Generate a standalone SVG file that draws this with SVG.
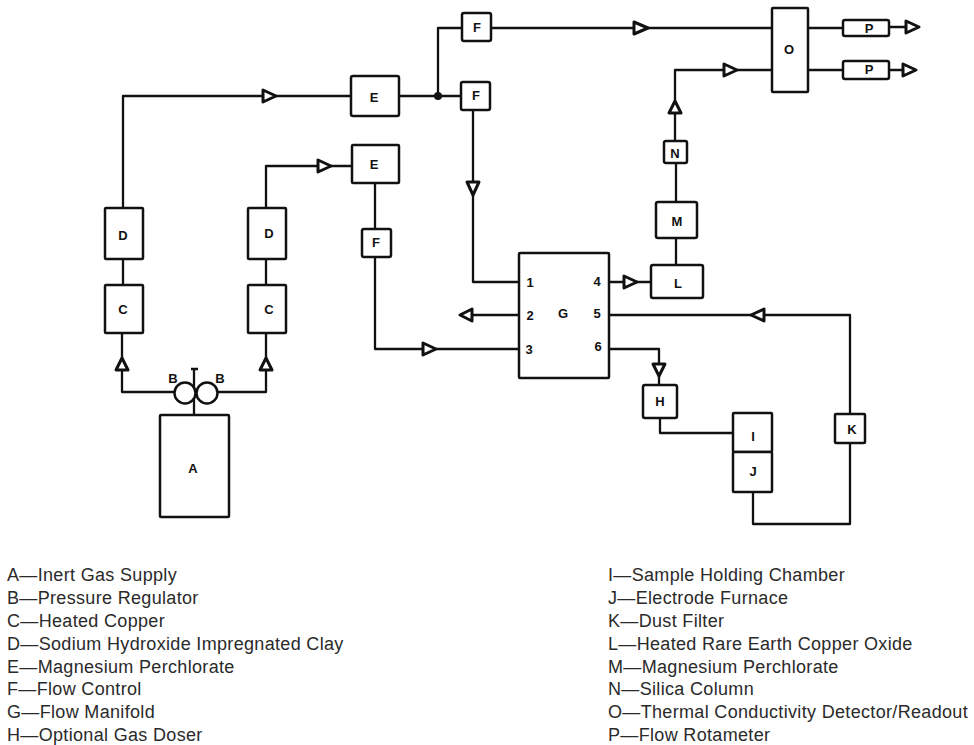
<svg xmlns="http://www.w3.org/2000/svg" width="974" height="745" viewBox="0 0 974 745">
<style>
.b{fill:#fff;stroke:#111;stroke-width:2.5;stroke-linejoin:round}
.l{fill:none;stroke:#111;stroke-width:2.3;stroke-linejoin:round}
.a{fill:#fff;stroke:#111;stroke-width:3;stroke-linejoin:round}
.t{font-family:"Liberation Sans",Arial,sans-serif;font-weight:700;font-size:13px;text-anchor:middle;fill:#111}
.k{font-family:"Liberation Sans",Arial,sans-serif;font-size:18px;letter-spacing:.33px;fill:#2a2a2a}
</style>
<rect width="974" height="745" fill="#fff"/>
<g id="connectors">
<path class="l" d="M123 208V96H351"/>
<path class="l" d="M266 208V166H352"/>
<path class="l" d="M123 285V259M266 285V259M375 183V229M122 333V392H175M266 333V392H217"/>
<path class="l" d="M194 369V415M191 369H198"/>
<path class="l" d="M399 96H461M438 96V28H462M491 28H772"/>
<path class="l" d="M473 110V282H519M375 257V349H519M519 315H473"/>
<path class="l" d="M609 282H651M676 265V238M676 202V163M675 141V70H772"/>
<path class="l" d="M808 28H843M889 27H905M808 70H843M889 70H902"/>
<path class="l" d="M609 315H850V414M850 443V524H753V492"/>
<path class="l" d="M609 349H659V385M660 418V433H733"/>
<circle cx="438" cy="96" r="4" fill="#111"/>
<polygon class="a" points="263,90 263,102 276,96"/>
<polygon class="a" points="318,160 318,172 331,166"/>
<polygon class="a" points="634,22 634,34 648,28"/>
<polygon class="a" points="724,64 724,76 737,70"/>
<polygon class="a" points="906,21 906,33 919,27"/>
<polygon class="a" points="903,64 903,76 916,70"/>
<polygon class="a" points="116,370 128,370 122,358"/>
<polygon class="a" points="260,370 272,370 266,358"/>
<polygon class="a" points="467,182 479,182 473,195"/>
<polygon class="a" points="669,113 681,113 675,101"/>
<polygon class="a" points="472,309 472,321 460,315"/>
<polygon class="a" points="423,343 423,355 436,349"/>
<polygon class="a" points="624,276 624,288 637,282"/>
<polygon class="a" points="764,309 764,321 751,315"/>
<polygon class="a" points="653,364 665,364 659,376"/>
</g>
<g id="A"><rect class="b" x="160" y="415" width="69" height="102" rx="1"/><text class="t" x="193" y="473">A</text></g>
<g id="B1"><circle class="b" cx="185" cy="393" r="10.5"/><text class="t" x="173" y="383">B</text></g>
<g id="B2"><circle class="b" cx="207" cy="393" r="10.5"/><text class="t" x="220" y="383">B</text></g>
<g id="C1"><rect class="b" x="105" y="285" width="38" height="48" rx="1"/><text class="t" x="123" y="314">C</text></g>
<g id="D1"><rect class="b" x="105" y="208" width="38" height="51" rx="1"/><text class="t" x="123" y="240">D</text></g>
<g id="C2"><rect class="b" x="248" y="285" width="38" height="48" rx="1"/><text class="t" x="269" y="314">C</text></g>
<g id="D2"><rect class="b" x="248" y="208" width="38" height="51" rx="1"/><text class="t" x="269" y="238">D</text></g>
<g id="E1"><rect class="b" x="351" y="76" width="48" height="40" rx="2"/><text class="t" x="374" y="102">E</text></g>
<g id="E2"><rect class="b" x="352" y="145" width="47" height="38" rx="1"/><text class="t" x="374" y="169">E</text></g>
<g id="F1"><rect class="b" x="462" y="13" width="29" height="28" rx="2"/><text class="t" x="477" y="32">F</text></g>
<g id="F2"><rect class="b" x="461" y="82" width="29" height="28" rx="2"/><text class="t" x="476" y="100">F</text></g>
<g id="F3"><rect class="b" x="362" y="229" width="29" height="28" rx="2"/><text class="t" x="376" y="247">F</text></g>
<g id="G"><rect class="b" x="519" y="253" width="90" height="125" rx="1"/>
<text class="t" x="530" y="287">1</text><text class="t" x="530" y="320">2</text><text class="t" x="529" y="354">3</text><text class="t" x="597" y="286">4</text><text class="t" x="597" y="318">5</text><text class="t" x="598" y="351">6</text><text class="t" font-size="14" x="563" y="318">G</text></g>
<g id="H"><rect class="b" x="643" y="385" width="34" height="33" rx="2"/><text class="t" x="660" y="406">H</text></g>
<g id="I"><rect class="b" x="733" y="413" width="39" height="39" rx="1"/><text class="t" x="753" y="441">I</text></g>
<g id="J"><rect class="b" x="733" y="452" width="39" height="40" rx="1"/><text class="t" x="753" y="476">J</text></g>
<g id="K"><rect class="b" x="835" y="414" width="30" height="29" rx="1"/><text class="t" x="852" y="434">K</text></g>
<g id="L"><rect class="b" x="651" y="265" width="52" height="33" rx="2"/><text class="t" x="678" y="288">L</text></g>
<g id="M"><rect class="b" x="656" y="202" width="41" height="36" rx="2"/><text class="t" x="677" y="226">M</text></g>
<g id="N"><rect class="b" x="664" y="141" width="23" height="22" rx="2"/><text class="t" x="675" y="158">N</text></g>
<g id="O"><rect class="b" x="772" y="8" width="36" height="84" rx="1"/><text class="t" x="789" y="54">O</text></g>
<g id="P1"><rect class="b" x="843" y="20" width="46" height="16" rx="2"/><text class="t" x="869" y="33">P</text></g>
<g id="P2"><rect class="b" x="843" y="61" width="46" height="18" rx="2"/><text class="t" x="869" y="74">P</text></g>
<g id="legend">
<text class="k" x="7" y="581">A—Inert Gas Supply</text>
<text class="k" x="7" y="604">B—Pressure Regulator</text>
<text class="k" x="7" y="627">C—Heated Copper</text>
<text class="k" x="7" y="650">D—Sodium Hydroxide Impregnated Clay</text>
<text class="k" x="7" y="673">E—Magnesium Perchlorate</text>
<text class="k" x="7" y="695">F—Flow Control</text>
<text class="k" x="7" y="718">G—Flow Manifold</text>
<text class="k" x="7" y="741">H—Optional Gas Doser</text>
<text class="k" x="608" y="581">I—Sample Holding Chamber</text>
<text class="k" x="608" y="604">J—Electrode Furnace</text>
<text class="k" x="608" y="627">K—Dust Filter</text>
<text class="k" x="608" y="650">L—Heated Rare Earth Copper Oxide</text>
<text class="k" x="608" y="673">M—Magnesium Perchlorate</text>
<text class="k" x="608" y="695">N—Silica Column</text>
<text class="k" x="608" y="718">O—Thermal Conductivity Detector/Readout</text>
<text class="k" x="608" y="741">P—Flow Rotameter</text>
</g>
</svg>
